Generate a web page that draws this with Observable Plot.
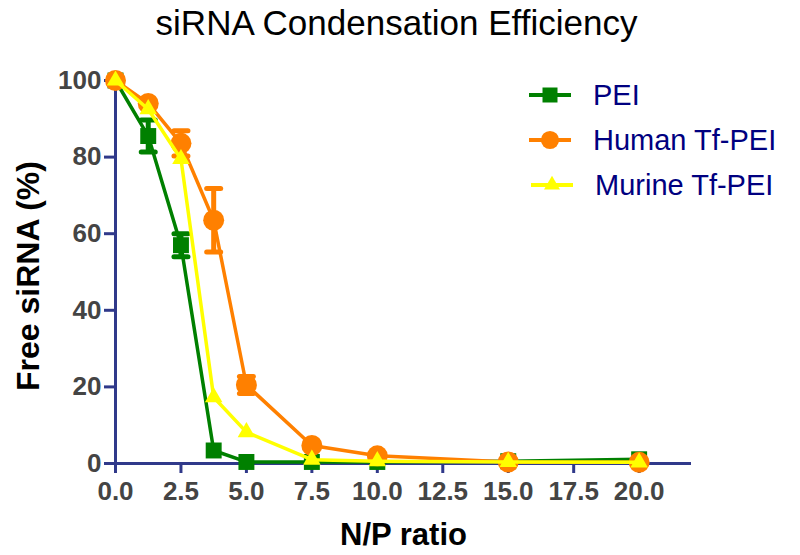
<!DOCTYPE html>
<html><head><meta charset="utf-8">
<script src="https://cdn.jsdelivr.net/npm/d3@7"></script>
<script src="https://cdn.jsdelivr.net/npm/@observablehq/plot@0.6"></script>
<style>
body{margin:0;background:#fff;font-family:"Liberation Sans",Arial,sans-serif}
#wrap{position:relative;width:800px;height:555px;overflow:hidden}
#legend{position:absolute;left:0;top:0;width:800px;height:555px;pointer-events:none}
.item{position:absolute;display:flex;align-items:center;color:#000080;font-size:29px;font-family:"Liberation Sans",Arial,sans-serif}
.item svg{margin-right:20px}
</style></head>
<body><div id="wrap"><div id="chart"></div><div id="legend"></div></div>
<script>
const series = ["PEI", "Human Tf-PEI", "Murine Tf-PEI"];
const seriesColors = ["#008000", "#FF8000", "#FFFF00"];
const seriesSymbols = ["square", "circle", "triangle"];
const npRatio = [0, 1.25, 2.5, 3.75, 5, 7.5, 10, 15, 20];
const peiValues    = [100, 85.5, 57.0, 3.4, 0.4, 0.4, 0.4, 0.6, 1.1];
const peiErrors    = [0, 4.2, 3.0, 0, 0, 0, 0, 0, 0];
const humanValues  = [100, 94.0, 83.6, 63.5, 20.5, 4.7, 2.0, 0.4, 0.3];
const humanErrors  = [0, 0, 3.3, 8.3, 2.2, 0, 0, 0, 0];
const murineValues = [100, 92.5, 79.5, 17.3, 8.2, 1.0, 0.6, 0.4, 0.3];
const murineErrors = [0, 0, 0, 0, 0, 0, 0, 0, 0];
const xTicks = [0, 2.5, 5, 7.5, 10, 12.5, 15, 17.5, 20];
const yTicks = [0, 20, 40, 60, 80, 100];

const allValues = [peiValues, humanValues, murineValues];
const allErrors = [peiErrors, humanErrors, murineErrors];
const axisColor = "#30398A";

const rows = series.flatMap((s, i) => npRatio.map((x, j) => ({series: s, x, y: allValues[i][j], e: allErrors[i][j]})));

const capSymbol = {draw(ctx, size) { const w = 7; ctx.moveTo(-w, 0); ctx.lineTo(w, 0); }};
const radii = {square: 9, circle: 10.5, triangle: 6.5};

const marks = [
  Plot.ruleX([0], {stroke: axisColor, strokeWidth: 3}),
  Plot.ruleY([0], {stroke: axisColor, strokeWidth: 3}),
  Plot.axisX({ticks: xTicks, tickFormat: d3.format(".1f"), tickSize: 10, tickPadding: 8, stroke: axisColor, strokeWidth: 3, fill: "#444", fontSize: 26, fontWeight: "bold", label: null}),
  Plot.axisY({ticks: yTicks, tickSize: 11, tickPadding: 3, stroke: axisColor, strokeWidth: 3, fill: "#444", fontSize: 26, fontWeight: "bold", label: null}),
];

series.forEach((s, i) => {
  const d = rows.filter(r => r.series === s);
  const errs = d.filter(r => r.e > 0);
  const color = seriesColors[i];
  marks.push(
    Plot.line(d, {x: "x", y: "y", stroke: color, strokeWidth: 3.5}),
    Plot.ruleX(errs, {x: "x", y1: r => r.y - r.e, y2: r => r.y + r.e, stroke: color, strokeWidth: 5}),
    Plot.dot(errs, {x: "x", y: r => r.y + r.e, symbol: capSymbol, stroke: color, strokeWidth: 5, strokeLinecap: "round", r: 5}),
    Plot.dot(errs, {x: "x", y: r => r.y - r.e, symbol: capSymbol, stroke: color, strokeWidth: 5, strokeLinecap: "round", r: 5}),
    Plot.dot(d, {x: "x", y: "y", symbol: seriesSymbols[i], fill: color, stroke: "none", r: radii[seriesSymbols[i]]})
  );
});

marks.push(
  Plot.text(["siRNA Condensation Efficiency"], {frameAnchor: "top", lineAnchor: "middle", dx: -7, dy: -57, fontSize: 35, fill: "#000"}),
  Plot.text(["N/P ratio"], {frameAnchor: "bottom", lineAnchor: "middle", dy: 72, fontSize: 31, fontWeight: "bold", fill: "#000"}),
  Plot.text(["Free siRNA (%)"], {frameAnchor: "left", textAnchor: "middle", lineAnchor: "middle", rotate: -90, dx: -87, dy: 4, fontSize: 32, fontWeight: "bold", fill: "#000"})
);

const chart = Plot.plot({
  width: 800, height: 555,
  marginLeft: 115, marginRight: 109, marginTop: 80, marginBottom: 92,
  x: {domain: [0, 22]},
  y: {domain: [0, 100]},
  style: {fontFamily: "'Liberation Sans', Arial, sans-serif", background: "#fff", overflow: "visible"},
  marks
});
document.getElementById("chart").append(chart);

// Legend
const legend = document.getElementById("legend");
const legendPos = [{x: 527, y: 95}, {x: 527, y: 140}, {x: 529, y: 185}];
series.forEach((s, i) => {
  const item = document.createElement("div");
  item.className = "item";
  item.style.left = legendPos[i].x + "px";
  item.style.top = (legendPos[i].y - 20) + "px";
  item.style.height = "40px";
  const svg = d3.create("svg").attr("width", 46).attr("height", 40);
  svg.append("line").attr("x1", 2).attr("x2", 44).attr("y1", 20).attr("y2", 20).attr("stroke", seriesColors[i]).attr("stroke-width", 4);
  const sym = {square: d3.symbolSquare, circle: d3.symbolCircle, triangle: d3.symbolTriangle}[seriesSymbols[i]];
  const sizes = {square: 225, circle: 260, triangle: 110};
  svg.append("path").attr("transform", "translate(23,20)").attr("d", d3.symbol(sym, sizes[seriesSymbols[i]])()).attr("fill", seriesColors[i]);
  item.append(svg.node());
  const t = document.createElement("span");
  t.textContent = s;
  item.append(t);
  legend.append(item);
});
</script>
</body></html>
